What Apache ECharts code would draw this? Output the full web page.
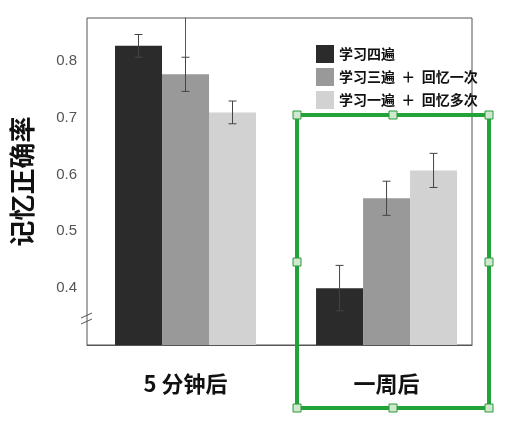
<!DOCTYPE html>
<html>
<head>
<meta charset="utf-8">
<script src="https://cdn.jsdelivr.net/npm/echarts@6/dist/echarts.min.js"></script>
<style>html,body{margin:0;padding:0;background:#fff}#main{width:521px;height:423px}</style>
</head>
<body>
<div id="main"></div>
<script>
var categories = ['5 分钟后', '一周后'];
var seriesNames = ['学习四遍', '学习三遍  ＋  回忆一次', '学习一遍  ＋  回忆多次'];
var colors = ['#2b2b2b', '#999999', '#d2d2d2'];
var values = [
    [0.826, 0.40],
    [0.776, 0.558],
    [0.709, 0.607]
];
var errors = [
    [0.02, 0.04],
    [0.03, 0.03],
    [0.02, 0.03]
];

var chart = echarts.init(document.getElementById('main'));
var font = '"Noto Sans CJK SC", "Noto Sans", sans-serif';

var series = [];
seriesNames.forEach(function (name, s) {
    series.push({
        name: name,
        type: 'bar',
        barWidth: 47,
        barGap: '0%',
        itemStyle: { color: colors[s] },
        data: values[s].map(function (v, c) { return [c, v]; })
    });
});
// error bars
series.push({
    type: 'custom',
    silent: true,
    z: 10,
    data: (function () {
        var d = [];
        values.forEach(function (vals, s) {
            vals.forEach(function (v, c) { d.push([c, v, errors[s][c], s]); });
        });
        return d;
    })(),
    renderItem: function (params, api) {
        var c = api.value(0), v = api.value(1), e = api.value(2), s = api.value(3);
        var x = api.coord([c, v])[0] + (s - 1) * 47;
        var hi = api.coord([c, v + e])[1];
        var lo = api.coord([c, v - e])[1];
        var st = { stroke: '#444', lineWidth: 1 };
        return {
            type: 'group',
            children: [
                { type: 'line', shape: { x1: x, y1: hi, x2: x, y2: lo }, style: st },
                { type: 'line', shape: { x1: x - 4, y1: hi, x2: x + 4, y2: hi }, style: st },
                { type: 'line', shape: { x1: x - 4, y1: lo, x2: x + 4, y2: lo }, style: st }
            ]
        };
    }
});

function handle(x, y) {
    return { type: 'rect', shape: { x: x - 4, y: y - 4, width: 8, height: 8 },
        style: { fill: '#cfe8cf', stroke: '#2a9a3a', lineWidth: 1 }, z: 101 };
}
var gx1 = 297, gx2 = 489, gy1 = 115, gy2 = 408, gxm = 393, gym = 262;

var option = {
    animation: false,
    grid: { left: 87, right: 49, top: 18, bottom: 78, show: true, borderColor: '#555', borderWidth: 1 },
    legend: {
        data: seriesNames,
        orient: 'vertical',
        left: 311, top: 40,
        itemWidth: 18, itemHeight: 18, itemGap: 5,
        icon: 'rect',
        textStyle: { fontFamily: font, fontWeight: 'bold', fontSize: 14, color: '#111' }
    },
    xAxis: {
        type: 'value',
        min: -0.49, max: 1.425,
        splitLine: { show: false },
        axisLine: { lineStyle: { color: '#555' } },
        axisTick: { show: false },
        axisLabel: {
            customValues: [0, 1],
            margin: 28, fontFamily: font, fontWeight: 'bold', fontSize: 22, color: '#111',
            formatter: function (v) { return categories[Math.round(v)]; }
        }
    },
    yAxis: {
        type: 'value',
        min: 0.3, max: 0.875, interval: 0.1,
        name: '记忆正确率',
        nameLocation: 'middle',
        nameGap: 52,
        nameRotate: 90,
        nameTextStyle: { fontFamily: font, fontWeight: 'bold', fontSize: 26, color: '#111' },
        splitLine: { show: false },
        axisLine: { show: true, lineStyle: { color: '#555' } },
        axisTick: { show: false },
        axisLabel: {
            showMaxLabel: false,
            fontFamily: '"Liberation Sans", Arial, sans-serif', fontSize: 15, color: '#555', margin: 10,
            formatter: function (v) { return v < 0.35 ? '' : v.toFixed(1); }
        }
    },
    graphic: [
        { type: 'line', shape: { x1: 81, y1: 318, x2: 92, y2: 313 }, style: { stroke: '#555', lineWidth: 1 } },
        { type: 'line', shape: { x1: 81, y1: 324, x2: 92, y2: 319 }, style: { stroke: '#555', lineWidth: 1 } },
        { type: 'rect', shape: { x: gx1, y: gy1, width: gx2 - gx1, height: gy2 - gy1 },
          style: { fill: 'none', stroke: '#22a33a', lineWidth: 4 }, z: 100 },
        handle(gx1, gy1), handle(gxm, gy1), handle(gx2, gy1),
        handle(gx1, gym), handle(gx2, gym),
        handle(gx1, gy2), handle(gxm, gy2), handle(gx2, gy2)
    ],
    series: series
};
chart.setOption(option);
window.addEventListener('resize', chart.resize);
</script>
</body>
</html>
